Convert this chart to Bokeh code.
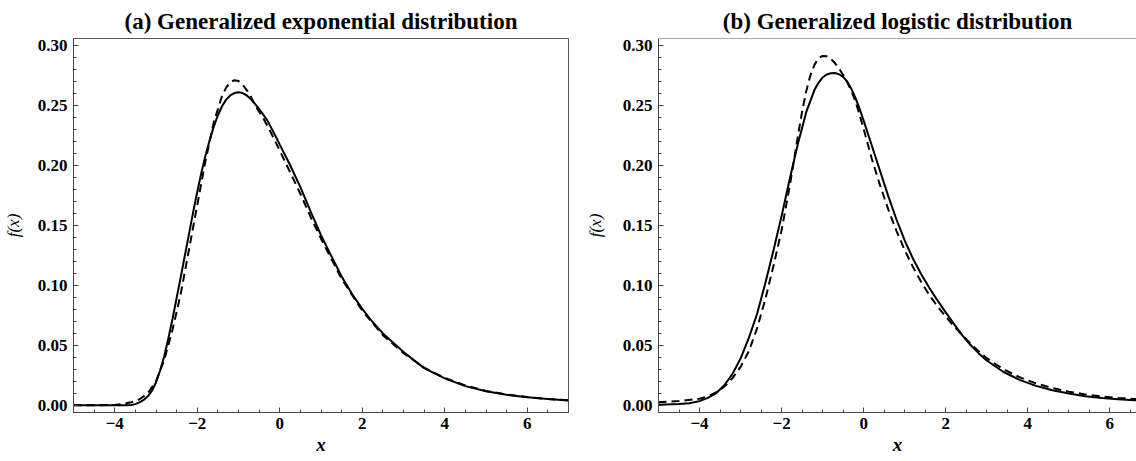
from bokeh.plotting import figure
from bokeh.layouts import row
from bokeh.models import FixedTicker, CustomJSTickFormatter, Range1d, Span
from bokeh.embed import file_html
from bokeh.resources import INLINE

# ---------------- data ----------------
title_a = "(a) Generalized exponential distribution"
title_b = "(b) Generalized logistic distribution"

xa_solid = [-5.0, -4.0, -3.7, -3.6, -3.5, -3.4, -3.3, -3.2, -3.1, -3.0, -2.9, -2.8, -2.7, -2.6,
            -2.5, -2.4, -2.3, -2.2, -2.1, -2.0, -1.9, -1.8, -1.7, -1.6, -1.5, -1.4, -1.3, -1.2,
            -1.1, -1.0, -0.9, -0.8, -0.7, -0.6, -0.5, -0.4, -0.3, -0.2, -0.1, 0.0, 0.25, 0.5,
            0.75, 1.0, 1.25, 1.5, 1.75, 2.0, 2.25, 2.5, 3.0, 3.5, 4.0, 4.5, 5.0, 5.5, 6.0, 6.5, 7.0]
ya_solid = [0.0, 0.0, 0.0, 0.0003, 0.001, 0.0025, 0.0045, 0.0075, 0.012, 0.019, 0.029, 0.041, 0.056, 0.072,
            0.0895, 0.107, 0.125, 0.143, 0.161, 0.178, 0.194, 0.2085, 0.221, 0.2325, 0.242, 0.2495, 0.255, 0.2585,
            0.2605, 0.2612, 0.2605, 0.2585, 0.2555, 0.2515, 0.247, 0.2425, 0.2375, 0.231, 0.2245, 0.2175, 0.2005, 0.182,
            0.1615, 0.142, 0.1245, 0.1075, 0.093, 0.0805, 0.0695, 0.060, 0.0445, 0.031, 0.0225, 0.016, 0.0118, 0.0088, 0.0068, 0.0052, 0.0040]

xa_dash = [-5.0, -4.5, -4.0, -3.8, -3.6, -3.4, -3.2, -3.0, -2.8, -2.6, -2.4, -2.2, -2.0, -1.8, -1.6,
           -1.4, -1.3, -1.2, -1.1, -1.0, -0.9, -0.8, -0.7, -0.6, -0.4, -0.2, 0.0, 0.25, 0.5, 0.75,
           1.0, 1.5, 2.0, 2.5, 3.0, 3.5, 4.0, 4.5, 5.0, 5.5, 6.0, 6.5, 7.0]
ya_dash = [0.0, 0.0, 0.0003, 0.001, 0.0025, 0.005, 0.010, 0.020, 0.038, 0.063, 0.093, 0.130, 0.167, 0.204, 0.236,
           0.258, 0.265, 0.2695, 0.2712, 0.2705, 0.2675, 0.263, 0.2575, 0.2505, 0.2395, 0.2265, 0.2125, 0.1945, 0.1765, 0.157,
           0.139, 0.1055, 0.079, 0.0585, 0.0435, 0.0315, 0.0228, 0.0165, 0.012, 0.009, 0.0069, 0.0053, 0.0041]

xb_solid = [-5.0, -4.5, -4.25, -4.0, -3.8, -3.6, -3.4, -3.2, -3.0, -2.8, -2.6, -2.4, -2.2, -2.0, -1.8,
            -1.6, -1.4, -1.2, -1.1, -1.0, -0.9, -0.8, -0.7, -0.6, -0.5, -0.4, -0.3, -0.2, -0.1, 0.0,
            0.2, 0.4, 0.6, 0.8, 1.0, 1.2, 1.4, 1.6, 1.8, 2.0, 2.2, 2.4, 2.6, 2.8, 3.0, 3.4, 3.8,
            4.2, 4.6, 5.0, 5.4, 5.8, 6.2, 6.6, 7.0]
yb_solid = [0.0005, 0.001, 0.0018, 0.0035, 0.0062, 0.010, 0.0165, 0.026, 0.039, 0.056, 0.076, 0.1015, 0.129, 0.158, 0.189,
            0.2185, 0.2445, 0.263, 0.269, 0.2735, 0.276, 0.277, 0.2772, 0.2762, 0.274, 0.270, 0.264, 0.2565, 0.2475, 0.2375,
            0.2165, 0.1955, 0.1745, 0.155, 0.1375, 0.1225, 0.1095, 0.098, 0.0875, 0.0775, 0.068, 0.0585, 0.0505, 0.0435, 0.0374, 0.0280, 0.0212,
            0.0162, 0.0125, 0.0098, 0.0076, 0.0060, 0.0050, 0.0042, 0.0036]

xb_dash = [-5.0, -4.5, -4.0, -3.8, -3.6, -3.4, -3.2, -3.0, -2.8, -2.6, -2.4, -2.2, -2.0, -1.8, -1.7,
           -1.6, -1.5, -1.4, -1.3, -1.2, -1.1, -1.0, -0.9, -0.8, -0.7, -0.6, -0.5, -0.4, -0.3, -0.2,
           -0.1, 0.0, 0.2, 0.4, 0.6, 0.8, 1.0, 1.2, 1.4, 1.6, 1.8, 2.0, 2.2, 2.4, 2.6, 2.8, 3.0,
           3.4, 3.8, 4.2, 4.6, 5.0, 5.4, 5.8, 6.2, 6.6, 7.0]
yb_dash = [0.0025, 0.0035, 0.0055, 0.0075, 0.0108, 0.0155, 0.0225, 0.032, 0.045, 0.064, 0.088, 0.116, 0.146, 0.183, 0.204,
           0.225, 0.245, 0.262, 0.275, 0.284, 0.2895, 0.2915, 0.2912, 0.289, 0.2855, 0.281, 0.2755, 0.2695, 0.2625, 0.2535,
           0.2425, 0.2305, 0.2055, 0.1835, 0.1635, 0.1455, 0.1295, 0.1155, 0.103, 0.092, 0.0825, 0.074, 0.066, 0.0588, 0.0517, 0.0452, 0.0393,
           0.0302, 0.0234, 0.0183, 0.0144, 0.0114, 0.0091, 0.0074, 0.0062, 0.0053, 0.0046]

x_major = [-4, -2, 0, 2, 4, 6]
y_major = [0.0, 0.05, 0.10, 0.15, 0.20, 0.25, 0.30]
x_label = "x"
y_label = "f(x)"

# ---------------- styling ----------------
FONT = "Liberation Serif"
Y0, Y1 = -0.006, 0.306
x_minor = [-5 + 0.5 * i for i in range(25)]
y_minor = [round(0.01 * i, 2) for i in range(31)]


def make_panel(title, xs, ys, xd, yd, x_end, width, b_left, b_right, outline, t_offset, ylab_standoff):
    p = figure(width=width, height=461, x_range=Range1d(-5, x_end), y_range=Range1d(Y0, Y1),
               output_backend="svg", toolbar_location=None,
               min_border_left=b_left, min_border_right=b_right,
               min_border_top=38, min_border_bottom=49,
               background_fill_color="white", border_fill_color="white")
    p.title.text = title
    p.title.text_font = FONT
    p.title.text_font_size = "23px"
    p.title.text_font_style = "bold"
    p.title.text_color = "black"
    p.title.align = "center"
    p.title.offset = t_offset
    p.title.standoff = 10
    p.xgrid.visible = False
    p.ygrid.visible = False
    if outline:
        p.outline_line_color = "#555555"
        p.outline_line_width = 1
        p.outline_line_alpha = 1
    else:
        p.outline_line_color = None
        p.add_layout(Span(location=Y1, dimension="width", line_color="#555555", line_width=1))

    for ax in (p.xaxis[0], p.yaxis[0]):
        ax.axis_line_color = "#444444"
        ax.major_tick_line_color = "#444444"
        ax.minor_tick_line_color = "#444444"
        ax.major_tick_in = 5
        ax.major_tick_out = 0
        ax.minor_tick_in = 3
        ax.minor_tick_out = 0
        ax.major_label_text_font = FONT
        ax.major_label_text_font_style = "bold"
        ax.major_label_text_font_size = "17px"
        ax.major_label_text_color = "black"
        ax.axis_label_text_font = FONT
        ax.axis_label_text_color = "black"

    p.xaxis.ticker = FixedTicker(ticks=x_major, minor_ticks=x_minor)
    p.yaxis.ticker = FixedTicker(ticks=y_major, minor_ticks=y_minor)
    p.xaxis.formatter = CustomJSTickFormatter(
        code="return tick < 0 ? '\u2212' + Math.abs(tick) : String(tick);")
    p.yaxis.formatter = CustomJSTickFormatter(code="return tick.toFixed(2);")
    p.xaxis.major_label_standoff = 5
    p.yaxis.major_label_standoff = 6

    p.xaxis.axis_label = x_label
    p.xaxis.axis_label_text_font_style = "bold italic"
    p.xaxis.axis_label_text_font_size = "19px"
    p.xaxis.axis_label_standoff = 2

    p.yaxis.axis_label = y_label
    p.yaxis.axis_label_text_font_style = "italic"
    p.yaxis.axis_label_text_font_size = "17px"
    p.yaxis.axis_label_standoff = ylab_standoff

    p.line(xs, ys, line_color="black", line_width=2)
    p.line(xd, yd, line_color="black", line_width=2, line_dash="8 5")
    return p


p1 = make_panel(title_a, xa_solid, ya_solid, xa_dash, ya_dash, 7.0, 582, 73, 14, True, -7, 12)
p2 = make_panel(title_b, xb_solid, yb_solid, xb_dash, yb_dash, 6.65, 554, 68, 0, False, 7, 15)

layout = row(p1, p2, spacing=0)
open("out.html", "w").write(file_html(layout, INLINE))
